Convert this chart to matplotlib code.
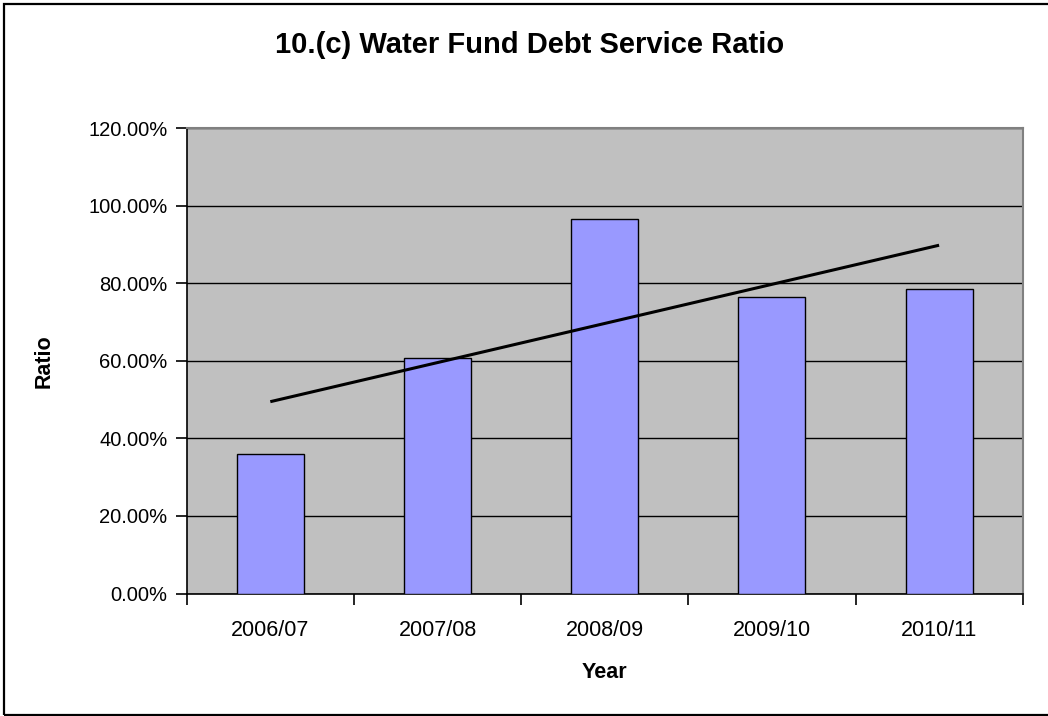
import numpy as np
import matplotlib
matplotlib.use("Agg")
import matplotlib.pyplot as plt
from matplotlib.patches import Rectangle
from matplotlib.ticker import FuncFormatter, FixedLocator

plt.rcParams['font.family'] = ['Liberation Sans', 'DejaVu Sans']

years = ["2006/07", "2007/08", "2008/09", "2009/10", "2010/11"]
ratios = [36.0, 60.7, 96.6, 76.4, 78.6]  # percent
y_ticks = [0, 20, 40, 60, 80, 100, 120]

W, H = 1048, 716
fig = plt.figure(figsize=(W / 100, H / 100), dpi=100)
fig.patch.set_facecolor("white")

# outer chart frame
fig.patches.append(Rectangle((4 / W, 1 - 715 / H), 1.2, 711 / H,
                             transform=fig.transFigure, fill=False,
                             edgecolor="black", linewidth=1.6, zorder=0))

left, right, top, bottom = 186.7, 1022.7, 128.3, 593.5
ax = fig.add_axes([left / W, 1 - bottom / H, (right - left) / W, (bottom - top) / H])
ax.set_facecolor("#C0C0C0")

x = np.arange(len(years))
ax.bar(x, ratios, width=0.4, color="#9999FF", edgecolor="black",
       linewidth=1.0, zorder=3)

# linear trendline through the bar values
slope, intercept = np.polyfit(x, ratios, 1)
ax.plot([x[0], x[-1]], [intercept + slope * x[0], intercept + slope * x[-1]],
        color="black", linewidth=2.2, zorder=4, solid_capstyle="butt")

ax.set_xlim(-0.5, len(years) - 0.5)
ax.set_ylim(0, 120)
ax.set_yticks(y_ticks)
ax.yaxis.set_major_formatter(FuncFormatter(lambda v, p: f"{v:.2f}%"))
ax.yaxis.grid(True, color="black", linewidth=1.0, zorder=1)
ax.set_axisbelow(True)

ax.set_xticks(x)
ax.set_xticklabels(years)
ax.xaxis.set_minor_locator(FixedLocator(np.arange(-0.5, len(years), 1.0)))
ax.tick_params(axis="x", which="major", length=0, pad=19, labelsize=15.5)
ax.tick_params(axis="x", which="minor", length=8, width=1.2, color="black")
ax.tick_params(axis="y", which="major", length=8, width=1.2, color="black",
               labelsize=14.5, pad=6)

for side in ("left", "bottom"):
    ax.spines[side].set_color("black")
    ax.spines[side].set_linewidth(1.2)
for side in ("top", "right"):
    ax.spines[side].set_color("#808080")
    ax.spines[side].set_linewidth(1.5)

ax.set_xlabel("Year", fontsize=15.5, fontweight="bold", labelpad=15)
ax.set_ylabel("Ratio", fontsize=15.5, fontweight="bold", labelpad=24)

fig.text(530 / W, 1 - 45 / H, "10.(c) Water Fund Debt Service Ratio",
         ha="center", va="center", fontsize=21, fontweight="bold")

fig.savefig("out.png", dpi=100)
